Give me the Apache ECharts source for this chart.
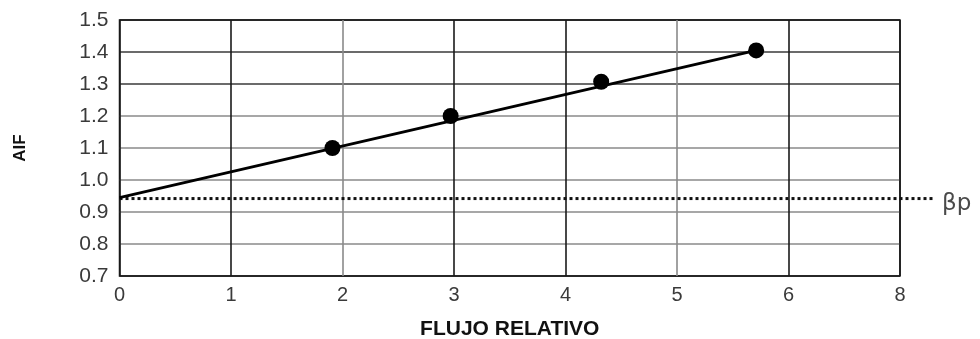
<!DOCTYPE html>
<html>
<head>
<meta charset="utf-8">
<script src="https://cdn.jsdelivr.net/npm/echarts@6/dist/echarts.min.js"></script>
<style>html,body{margin:0;padding:0;background:#fff;overflow:hidden}#c{width:980px;height:339px}</style>
</head>
<body>
<div id="c"></div>
<script>
// Data
const xTickLabels = ['0','1','2','3','4','5','6','8'];
const pointsX = [1.91, 2.97, 4.32, 5.71];
const pointsY = [1.10, 1.20, 1.307, 1.405];
const fitLineX = [0, 5.71];
const fitLineY = [0.945, 1.405];
const betaP = 0.942;
const betaLineX = [0, 1];
const xAxisName = 'FLUJO RELATIVO';
const yAxisName = 'AIF';
const betaLabel = 'βp';

const chart = echarts.init(document.getElementById('c'), null, {renderer: 'canvas'});
const font = 'Liberation Sans, Arial, sans-serif';
const G = {left: 119.5, top: 20, bottom: 63};
chart.setOption({
  animation: false,
  grid: [
    {left: G.left, right: 80, top: G.top, bottom: G.bottom, containLabel: false, outerBoundsMode: 'none', show: true, borderColor: '#1a1a1a', borderWidth: 1.5, backgroundColor: 'transparent'},
    {left: G.left, right: 45, top: G.top, bottom: G.bottom, containLabel: false, outerBoundsMode: 'none', show: false}
  ],
  xAxis: [{
    type: 'value', min: 0, max: 7, interval: 1, gridIndex: 0,
    axisLine: {show: false}, axisTick: {show: false},
    axisLabel: {color: '#3a3a3a', fontSize: 20, fontFamily: font, margin: 9,
      formatter: v => xTickLabels[Math.round(v)]},
    splitLine: {show: true, lineStyle: {width: 1.6, color: ['#1a1a1a','#1a1a1a','#8a8a8a','#1a1a1a','#1a1a1a','#8a8a8a','#1a1a1a','#1a1a1a']}},
    name: xAxisName, nameLocation: 'middle', nameGap: 43,
    nameTextStyle: {fontSize: 21, fontWeight: 'bold', color: '#111', fontFamily: font}
  }, {
    type: 'value', min: 0, max: 1, gridIndex: 1, show: false
  }],
  yAxis: [{
    type: 'value', min: 0.7, max: 1.5, interval: 0.1, gridIndex: 0,
    axisLine: {show: false}, axisTick: {show: false},
    axisLabel: {color: '#3a3a3a', fontSize: 21, fontFamily: font, margin: 11,
      formatter: v => v.toFixed(1)},
    splitLine: {show: true, lineStyle: {width: 1.6, color: ['#1a1a1a','#8a8a8a','#8a8a8a','#8a8a8a','#8a8a8a','#8a8a8a','#3a3a3a','#3a3a3a','#1a1a1a']}},
    name: yAxisName, nameLocation: 'middle', nameGap: 91, nameRotate: 90,
    nameTextStyle: {fontSize: 17, fontWeight: 'bold', color: '#111', fontFamily: font}
  }, {
    type: 'value', min: 0.7, max: 1.5, gridIndex: 1, show: false
  }],
  series: [
    {
      type: 'line', symbol: 'none', silent: true, xAxisIndex: 1, yAxisIndex: 1,
      data: betaLineX.map(x => [x, betaP]),
      lineStyle: {color: '#111', width: 3, type: [3, 3]},
      endLabel: {show: true, formatter: betaLabel, color: '#4a4a4a', fontSize: 23, fontFamily: 'DejaVu Sans, sans-serif', offset: [-1, 5]}
    },
    {
      type: 'line', symbol: 'none', silent: true,
      data: fitLineX.map((x, i) => [x, fitLineY[i]]),
      lineStyle: {color: '#000', width: 3}
    },
    {
      type: 'scatter', symbol: 'circle', symbolSize: 16,
      data: pointsX.map((x, i) => [x, pointsY[i]]),
      itemStyle: {color: '#000', opacity: 1}
    }
  ]
});
</script>
</body>
</html>
